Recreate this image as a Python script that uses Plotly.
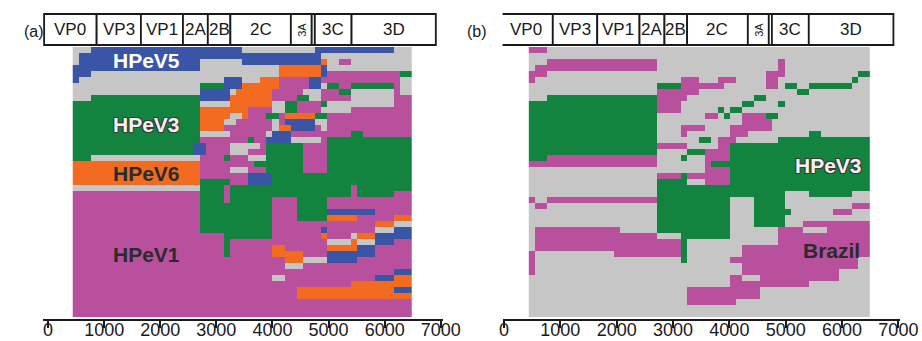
import re
import numpy as np
import plotly.graph_objects as go

# ---------------- data ----------------
# cell codes: X = no assignment (grey), B = HPeV5, G = HPeV3, O = HPeV6, M = HPeV1
codes = ["X", "B", "G", "O", "M"]
code_colors = ["#c6c6c6", "#3b55a6", "#13843f", "#f26b21", "#b8509e"]

window_start = 440      # genome position of first window
window_size = 108       # nt per window
n_windows = 56

# run-length encoded rows (top to bottom), one string per sequence
panel_a_rows = [
    "3X18B7B12X13B3X",
    "1X20B20B15X",
    "1X20B7X13B1O2X2M10X",
    "21B13X7O1B14X",
    "3B18X13X7O1B12M2G",
    "1B20X4X3B3X3O5M2B13M2X",
    "21X4G3B6O5M2B1X2G2M7G1M2X",
    "21X5B1X6O5M3X3M2G7X1M2X",
    "3X18G5B7O4M2G2X5M7X3M",
    "21G5X7O2X2G4M1G11X3M",
    "21G8O4M2X2G4M5X10M",
    "21G5O2X1O3M2G1M5O2G14M",
    "21G4O2X6M1X1M5B2X14M",
    "21G4O8M1X2O4B1M1X14M",
    "21G5X6M1X3B10M2G8M",
    "21G8M1G2M4B5X1M14G",
    "20G1B1B4M5X1M6G4M14G",
    "20G1B1B4M3X3M6G4M14G",
    "3G18X4M1G3M3X6G4M14G",
    "21O9M8G4M14G",
    "21O5M3X3M6G4M14G",
    "21O8M4B23G",
    "21O5G3M4B23G",
    "21X4G1M20G1M9G",
    "21M4G1M20G1M6G3M",
    "21M4G1M7G4M5G14M",
    "21M12G4M5G14M",
    "21M12G4M5G8B6M",
    "21M12G4M5G5O6M3O",
    "21M12G17M3O3X",
    "21M12G8M1B8M3X3B",
    "21M4M8G8M1O4M1X3O3B3B",
    "21M4M1G16M4X1O3X3B3M",
    "21M4M1G7M2O7M5O3B6M",
    "21M4M1G7M5O4M8B6M",
    "21M14M3O4X5B9M",
    "21M14M3X18M",
    "21M32M3B",
    "21M12M2X15M3B3O",
    "21M25M10O",
    "21M16M16O3B",
    "21M16M19O",
    "56M",
    "56M",
    "56M",
]

panel_b_rows = [
    "3M53X",
    "56X",
    "3X18M20X1M14X",
    "1X20M20X1M14X",
    "3M36X3M12X2G",
    "1M24X3M3X3M5X2M12X1G2X",
    "21X4G7M7X2M1X2G2X7G3X",
    "21X7M16X2G10X",
    "3X18G5M11X2G17X",
    "21G4M10X2G4X1G14X",
    "21G4M6X1G1X2G21X",
    "21G8X2M1X1G2X4M2G15X",
    "21G14X5M16X",
    "21G4X4M4X7M16X",
    "21G4X1M7X3M10X2G8X",
    "21G7X2G1X3M7X15G",
    "21G5M5X2M23G",
    "21G5X3G4M23G",
    "3G18M4X1G3X4M23G",
    "21M8X1M26G",
    "29X4M23G",
    "21X4M1G7M23G",
    "21X5G3X4M23G",
    "21X35G",
    "21X21G4X7G3X",
    "1M2X18M12G4X5G14X",
    "1X2M18X12G4X5G11X3M",
    "21X12G4X6G7X3M3X",
    "21X12G4X5G14X",
    "21X12G4X5G3X11M",
    "1X14M6X12G8X4M4X7M",
    "1X20M4X8G8X15M",
    "1X24M1G15X15M",
    "1X24M1G9X21M",
    "1M13X11M1G9X21M",
    "1M24X1G7X21M2X",
    "1M34X19M2X",
    "1M34X16M5X",
    "33X2M3X13M5X",
    "33X13M10X",
    "26X12M18X",
    "26X12M18X",
    "26X8M22X",
    "56X",
    "56X",
]

gene_names = ["VP0", "VP3", "VP1", "2A", "2B", "2C", "3A", "", "3C", "3D"]
gene_bounds = [-70, 866, 1655, 2405, 2848, 3250, 4328, 4700, 4755, 5410, 6912]

tick_values = [0, 1000, 2000, 3000, 4000, 5000, 6000, 7000]

labels_a = [("HPeV5", 1763, 1.7, "#ffffff", True),
            ("HPeV3", 1763, 12.4, "#f2f2f2", True),
            ("HPeV6", 1763, 20.6, "#2b2b2b", False),
            ("HPeV1", 1763, 34.1, "#2b2b2b", False)]
labels_b = [("HPeV3", 5765, 19.2, "#f2f2f2", True),
            ("Brazil", 5809, 33.4, "#2b2b2b", False)]


# ---------------- build ----------------
def decode(row):
    cells = []
    for n, c in re.findall(r"(\d+)([A-Z])", row):
        cells += [codes.index(c)] * int(n)
    cells = (cells + [cells[-1]] * n_windows)[:n_windows]
    return cells


za = np.array([decode(r) for r in panel_a_rows])
zb = np.array([decode(r) for r in panel_b_rows])
edges = window_start + window_size * np.arange(n_windows + 1)
rows_y = np.arange(len(panel_a_rows))

k = len(codes)
cs = []
for i, col in enumerate(code_colors):
    lo = max(0.0, (i - 0.5) / (k - 1))
    hi = min(1.0, (i + 0.5) / (k - 1))
    cs += [[lo, col], [hi, col]]

fig = go.Figure()
for z, xa in [(za, "x"), (zb, "x2")]:
    fig.add_trace(go.Heatmap(z=z, x=edges, y=rows_y, colorscale=cs, zmin=0,
                             zmax=k - 1, showscale=False, hoverinfo="skip",
                             xaxis=xa, yaxis="y"))

FONT = "Liberation Sans, Arial, sans-serif"
shapes = []
annotations = []
box_top, box_bot = -6.0, -0.83
for xref in ["x", "x2"]:
    for i, name in enumerate(gene_names):
        shapes.append(dict(type="rect", xref=xref, yref="y",
                           x0=gene_bounds[i], x1=gene_bounds[i + 1],
                           y0=box_top, y1=box_bot,
                           line=dict(color="#1a1a1a", width=1.8),
                           fillcolor="white", layer="above"))
        if name:
            rot = name == "3A"
            annotations.append(dict(
                xref=xref, yref="y", x=(gene_bounds[i] + gene_bounds[i + 1]) / 2,
                y=(box_top + box_bot) / 2, text=name, showarrow=False,
                textangle=-90 if rot else 0,
                font=dict(family=FONT, size=11 if rot else 17, color="#1a1a1a")))

outline = ("1px 1px 0 #3a3a3a, -1px -1px 0 #3a3a3a, 1px -1px 0 #3a3a3a, "
           "-1px 1px 0 #3a3a3a")
for xref, labels in [("x", labels_a), ("x2", labels_b)]:
    for text, x, y, color, outlined in labels:
        f = dict(family=FONT, size=21, color=color, weight=700)
        if outlined and text == "HPeV3":
            f["shadow"] = outline
        annotations.append(dict(xref=xref, yref="y", x=x, y=y, text=text,
                                showarrow=False, font=f))

for txt, px in [("(a)", 22), ("(b)", 477)]:
    annotations.append(dict(xref="paper", yref="paper", x=px / 922,
                            y=1 - 21 / 319, text=txt, showarrow=False,
                            font=dict(family=FONT, size=16, color="#1a1a1a")))

axis_common = dict(showline=True, linecolor="#1a1a1a", linewidth=2,
                   ticks="outside", ticklen=7, tickwidth=1.5,
                   tickcolor="#1a1a1a", tickvals=tick_values,
                   ticklabelstandoff=-14, automargin=False,
                   tickfont=dict(family=FONT, size=18, color="#1a1a1a"),
                   showgrid=False, zeroline=False, fixedrange=True)

fig.update_layout(
    width=922, height=341,
    margin=dict(l=0, r=0, t=0, b=22, autoexpand=False),
    paper_bgcolor="white", plot_bgcolor="white",
    xaxis=dict(domain=[43 / 922, 443 / 922], range=[-90, 7040], anchor="y",
               **axis_common),
    xaxis2=dict(domain=[502.6 / 922, 899.5 / 922], range=[-25, 7020],
                anchor="y", **axis_common),
    yaxis=dict(domain=[0, 1], range=[44.833, -8.333], visible=False,
               fixedrange=True, automargin=False),
    shapes=shapes,
    annotations=annotations,
    showlegend=False,
)

fig.write_html("out.html", config={"displayModeBar": False},
               post_script="document.body.style.margin='0';"
                           "document.body.style.overflow='hidden';")
